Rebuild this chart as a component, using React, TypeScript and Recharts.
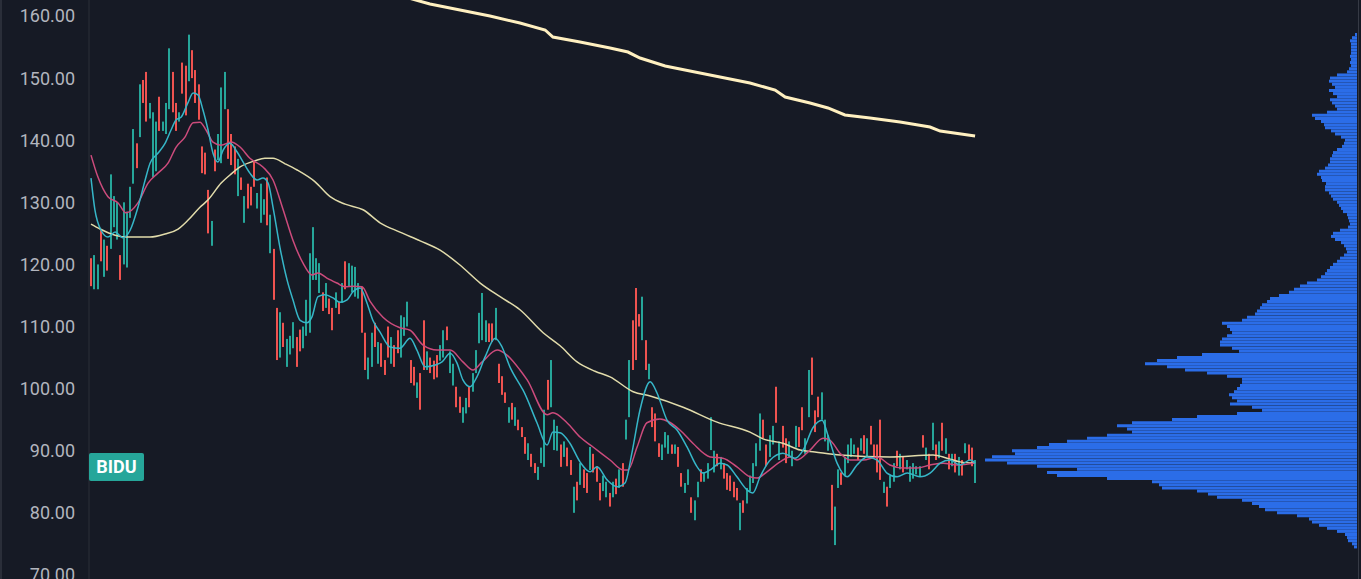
import { Bar, BarChart, ComposedChart, Line, XAxis, YAxis } from "recharts";

const BG = "#161a25";
const UP = "#26a69a";
const DOWN = "#ef5350";
const AXIS_TEXT = "#b2b5be";
const PRICE_DOMAIN = [69.34, 162.58];
const PRICE_TICKS = [70, 80, 90, 100, 110, 120, 130, 140, 150, 160];

// daily candles (high / low / direction)
const highs = [
  121, 121.5, 120, 125.5, 124, 123, 134.5, 131, 130, 121.5,
  130, 128.5, 132.5, 141.8, 139.5, 149, 149.7, 151, 146, 144.5,
  143, 147, 143, 146, 154.8, 151, 146, 144.5, 152.5, 152,
  157, 154.5, 151.3, 149, 139, 138, 132, 127, 138.5, 141,
  148.5, 151, 145, 141, 139, 137, 134, 131, 133, 132.5,
  136.5, 131.5, 133, 130.5, 134, 128, 122.5, 113, 112.3, 110.6,
  108, 108.5, 110.7, 108.3, 109.5, 110, 114.3, 121.8, 126, 121,
  120.2, 115.5, 117, 114.5, 113, 115.5, 114, 117, 120.5, 120.2,
  119.8, 119.6, 117, 116.4, 109, 105, 109, 110.6, 107.5, 107.3,
  104.6, 110, 108.3, 107, 109.4, 111.8, 111.5, 114, 104.6, 103.5,
  101, 102.5, 111, 106, 105, 104.5, 105.4, 107, 109.4, 110,
  106, 104, 100.3, 98.7, 97, 98.5, 100.3, 102.5, 106.2, 112.2,
  115.4, 111, 110.5, 110.5, 113, 104, 102, 99.4, 97, 97.7,
  97, 95, 93.8, 92.2, 91.2, 89.5, 88, 87.4, 90.5, 96.6,
  101.4, 104.6, 95, 94, 91, 91.5, 90.5, 88.5, 84.2, 85,
  88, 87, 86.4, 90.6, 89.5, 87.5, 84.8, 86, 85, 83.2,
  85, 85.5, 87, 88, 95, 104.6, 111, 116.2, 112, 114.8,
  107.8, 104, 97, 96, 91.2, 91, 93, 92.5, 91, 91,
  90.6, 86.4, 84.8, 87, 82.5, 82, 85, 87, 86.5, 88,
  95.4, 90, 89.5, 89, 88, 86.4, 86, 85, 84, 81.6,
  82, 84, 86, 88, 91.2, 96, 95, 91, 92.5, 94,
  100.3, 91.5, 94, 92, 91.5, 90, 94, 93.8, 97, 92,
  103, 105, 96.5, 98.7, 99.4, 95, 92.5, 84.5, 81, 87,
  86.5, 89, 91, 92, 91, 90.5, 92, 92.5, 92, 94,
  91, 91, 95, 85, 84.2, 86, 88, 90, 89.5, 89,
  88.5, 87.5, 88, 87.5, 87.5, 92.5, 90.5, 89.5, 94.5, 91,
  91.5, 94.5, 92, 89.5, 89.5, 89.5, 89, 88.5, 91.2, 91,
  90.5, 88.5,
];

const lows = [
  116.5, 116, 116, 120.5, 118, 119, 122.5, 126, 124, 117.5,
  120, 119.5, 127.5, 133, 135.5, 140.5, 146, 143, 143.5, 134,
  135, 141.5, 141.5, 141, 145, 144.5, 141.5, 143, 147.5, 144,
  149.5, 150, 146, 143.3, 134.7, 134.5, 125, 123, 135, 136.8,
  136.3, 145, 137, 136, 134.5, 131, 132, 126.7, 129, 129.5,
  132.5, 129, 126.7, 128, 126.3, 121.8, 114.3, 104.6, 105, 106.7,
  103.5, 105.5, 106.5, 103.5, 106, 106.5, 108.5, 109, 117.5, 117.5,
  115.4, 112.5, 113, 112, 109.4, 113, 112, 113.8, 116, 116.5,
  115.5, 114.8, 114.5, 109, 103, 101.5, 103.5, 106.7, 104, 103.5,
  102.2, 105, 104, 103.5, 105.7, 105, 108.5, 110, 100.9, 100.5,
  98.5, 96.6, 103, 103, 102.5, 101.5, 101.8, 104.5, 105, 107.8,
  102.5, 100.5, 97, 96.1, 94.5, 96, 97, 99.5, 102.5, 107.3,
  107.8, 107.5, 107.5, 107.5, 107.8, 100.9, 99, 97.7, 94.5, 95,
  94, 93.3, 92.2, 89.5, 88.5, 87.4, 86.4, 85.3, 88, 87.4,
  96.6, 97, 90.1, 90, 87.4, 89, 87.5, 86.1, 80, 82,
  84.5, 84, 83.2, 86.9, 86.5, 85, 82, 83.5, 82.5, 81,
  82.5, 83, 84, 84.2, 91.8, 95.4, 103, 104.6, 110, 107.8,
  103, 101.5, 93.8, 91.5, 89, 88.5, 90.5, 89.5, 89.5, 89.5,
  87.4, 84.2, 83.2, 84.5, 80, 78.8, 82.5, 85, 85, 85.5,
  90.1, 86.5, 87.5, 87, 85.5, 83.7, 83.5, 82.5, 82, 77.2,
  80, 81.5, 83.5, 84.8, 87.5, 90, 92, 87.5, 89, 91,
  94.5, 88.5, 90.5, 88, 89, 87.5, 90.5, 90.6, 93.3, 89.5,
  95.4, 99, 93, 95.4, 95, 91.5, 90, 77.2, 74.8, 84,
  84.5, 86, 88, 89, 89.5, 88.5, 90, 89.5, 89, 91,
  89, 86.5, 85.3, 83.2, 81, 84, 85, 87.5, 87, 86.5,
  87, 85, 85.5, 86.2, 85.8, 90.5, 88.5, 87, 90.1, 88.5,
  88.8, 90, 89.5, 87, 87.5, 86.5, 86, 86, 89.6, 88.5,
  87.5, 84.8,
];

// u = close above open, d = close below open, 10 candles per group
const directionGroups = [
  "duududuuud", "uuuududduu", "uduuuddudd", "uddddddudu", "uudddududd",
  "duuududdud", "uuudduuuuu", "ududdududu", "uuudduudud", "ddudduuudd",
  "udduddduud", "uudduuduuu", "uuddudddud", "udddudduuu", "duuududdud",
  "udduddduud", "ududuudddu", "duddduuudu", "dduuduuduu", "uududddddu",
  "duuuuudduu", "dudduuuddu", "uddduuuduu", "duuuududud", "ddduduudud",
  "uuuuududud", "ududududud", "du",
];
const directions = directionGroups.join("");

// moving averages: [candle index, price]
const slowMa = [
  [0, 126.5], [2.8, 125.7], [7.4, 124.7], [11.3, 124.4], [18.1, 124.4], [22.7, 124.9],
  [26.7, 125.7], [29.7, 127.1], [33.4, 129.2], [35.9, 130.4], [39.9, 133.1], [42.6, 134.4],
  [45.7, 135.7], [50.3, 136.7], [53.3, 137.1], [55.8, 137.1], [59.5, 136.2], [63.2, 135.2],
  [68.7, 133.3], [73.3, 130.9], [77.9, 129.7], [83.4, 128.8], [88.6, 126.7], [94.7, 125.2],
  [100.9, 123.8], [107, 122.3], [113.1, 119.9], [119.3, 117], [125.4, 114.8], [131.5, 112.7],
  [138.6, 109], [143.8, 106.9], [149, 104.3], [154.5, 102.8], [159.1, 101.9], [166.2, 99.5],
  [171.4, 98.8], [181.5, 97], [191.9, 94.6], [202, 93], [206, 91.9], [212.1, 91.2],
  [217.4, 90.1], [221.9, 89.8], [229.6, 89.3], [244.9, 89], [258.1, 89.3], [262.4, 88.8],
  [266.4, 88.2], [271, 88],
];

const midMa = [
  [0, 137.6], [2.1, 134.1], [5.2, 130.9], [8.3, 129.9], [10.7, 128.3], [14.4, 129.9],
  [17.5, 133.1], [20.5, 134.7], [23.6, 136.3], [26.1, 138.9], [28.8, 140.5], [31.3, 142.8],
  [33.4, 142.9], [35.3, 141.6], [37.4, 139.7], [39.9, 139.2], [42.9, 139.7], [45.7, 138.9],
  [48.7, 137.1], [52.7, 135.7], [55.8, 133.6], [58.9, 128.8], [61.9, 123.9], [65, 120.2],
  [67.7, 118.3], [69.6, 118.6], [72.3, 117.8], [75.4, 117], [77.9, 116.4], [80.3, 116.5],
  [83.1, 116.4], [85.5, 114.1], [89.5, 111.5], [94.7, 109.8], [97.8, 109.4], [101.8, 107],
  [106.1, 106.2], [110.1, 106.2], [114, 104.3], [117.1, 103], [119.9, 104.3], [124.5, 106.2],
  [127.5, 105.4], [131.5, 103], [133.7, 101.4], [139.8, 95.8], [141.6, 96.1], [145.9, 94.5],
  [149.9, 92.2], [153.9, 90.6], [159.1, 88.5], [163.1, 86.9], [164.6, 86.9], [167.4, 90.6],
  [170.4, 94.5], [174.4, 95.1], [180.6, 93.3], [184.5, 91.2], [189.8, 89], [193.7, 88.8],
  [198, 87.4], [202, 85.8], [204.2, 85.6], [207.2, 86.6], [211.2, 88.2], [214.3, 89],
  [216.4, 88.5], [220.4, 90.1], [224.4, 92], [226.5, 91.7], [229.6, 89.6], [232.7, 88.5],
  [236.7, 88.5], [241, 89], [244.9, 87.7], [248.9, 87.2], [253.2, 87.2], [257.2, 87.7],
  [261.2, 88], [265.5, 87.7], [271, 88],
];

const fastMa = [
  [0, 133.9], [1.2, 128.8], [3.1, 125.5], [5.2, 124.4], [7.4, 125.2], [9.8, 124.3],
  [12, 125.5], [14.4, 129.2], [16.6, 133.6], [18.1, 136.3], [20.5, 137.9], [22.7, 139.5],
  [24.5, 141.6], [26.1, 143.3], [27.6, 143.7], [29.7, 146], [31.3, 147.6], [32.8, 147.3],
  [34.3, 144.9], [35.9, 141.6], [37.4, 137.9], [38.9, 136.5], [40.5, 138.4], [42.6, 139.5],
  [44.8, 138.1], [46.6, 136.5], [48.7, 134.7], [50.9, 133.6], [52.7, 133.9], [54.3, 133.1],
  [55.8, 129.2], [57.9, 122.8], [60.1, 117.5], [61.9, 114.3], [64.1, 111], [66.2, 110.6],
  [67.7, 111.5], [69.6, 114.8], [71.7, 115.1], [74.2, 114.6], [76.3, 113.9], [78.5, 114.3],
  [80.3, 115.6], [82.5, 116.2], [84.6, 113.8], [86.4, 111], [88.6, 109.1], [91.7, 106.7],
  [94.7, 106.5], [97.8, 108.1], [99.9, 106.2], [102.4, 103.5], [105.5, 103.8], [107.6, 104.3],
  [110.1, 105.7], [112.2, 104.1], [114, 101.4], [116.2, 100.3], [118.3, 101.9], [120.8, 105.1],
  [123.9, 108.1], [126, 106.7], [128.4, 103.5], [131.5, 100.6], [132.4, 99.8], [136.7, 94.5],
  [139.8, 90.9], [141.6, 93], [143.8, 92.9], [146.8, 91.2], [149.9, 88.2], [153, 86.6],
  [155.1, 87.4], [158.2, 85.3], [161.3, 84.2], [163.7, 84.8], [165.8, 89.6], [168.3, 96.6],
  [171.4, 101.1], [173.5, 99.3], [176.6, 94.9], [179.7, 93.3], [182.7, 90.6], [185.8, 87.4],
  [187.6, 86.4], [189.8, 86.9], [192.8, 88], [195, 87.7], [198, 85.8], [201.1, 83.7],
  [202.9, 83.2], [205.1, 85.8], [208.2, 88.5], [212.1, 89.6], [215.8, 88.8], [218.3, 90.1],
  [221.3, 93.7], [224.1, 94.9], [225.9, 92.5], [228.7, 88], [231.8, 85.8], [234.8, 87.7],
  [237.9, 89], [241, 88.5], [244, 86.4], [247.1, 85.8], [250.2, 86.4], [254.1, 85.8],
  [257.2, 86.4], [260.3, 88], [263.3, 88.5], [266.4, 87.7], [269.5, 88.5], [271, 88],
];

const longMa = [
  [96.3, 163.06], [103.9, 161.93], [113.1, 160.97], [122.3, 160], [131.5, 158.87],
  [139.2, 157.75], [141.6, 156.62], [149.9, 155.81], [159.1, 154.85], [164.6, 154.2],
  [168.3, 153.24], [176, 151.95], [183.6, 151.14], [192.8, 150.18], [202, 149.21],
  [209.7, 148.08], [212.8, 146.96], [220.4, 145.99], [225.9, 145.19], [231.1, 144.06],
  [238.8, 143.57], [248, 142.93], [257.2, 142.13], [260.3, 141.48], [271, 140.68],
];

// volume profile: price level -> relative volume
const profileLevels = [
  157, 156.5, 156, 155.5, 155, 154.5, 154, 153.5, 153, 152.5, 152, 151.5, 151, 150.5, 150,
  149.5, 149, 148.5, 148, 147.5, 147, 146.5, 146, 145.5, 145, 144.5, 144, 143.5, 143, 142.5,
  142, 141.5, 141, 140.5, 140, 139.5, 139, 138.5, 138, 137.5, 137, 136.5, 136, 135.5, 135,
  134.5, 134, 133.5, 133, 132.5, 132, 131.5, 131, 130.5, 130, 129.5, 129, 128.5, 128, 127.5,
  127, 126.5, 126, 125.5, 125, 124.5, 124, 123.5, 123, 122.5, 122, 121.5, 121, 120.5, 120,
  119.5, 119, 118.5, 118, 117.5, 117, 116.5, 116, 115.5, 115, 114.5, 114, 113.5, 113, 112.5,
  112, 111.5, 111, 110.5, 110, 109.5, 109, 108.5, 108, 107.5, 107, 106.5, 106, 105.5, 105,
  104.5, 104, 103.5, 103, 102.5, 102, 101.5, 101, 100.5, 100, 99.5, 99, 98.5, 98, 97.5,
  97, 96.5, 96, 95.5, 95, 94.5, 94, 93.5, 93, 92.5, 92, 91.5, 91, 90.5, 90,
  89.5, 89, 88.5, 88, 87.5, 87, 86.5, 86, 85.5, 85, 84.5, 84, 83.5, 83, 82.5,
  82, 81.5, 81, 80.5, 80, 79.5, 79, 78.5, 78, 77.5, 77, 76.5, 76, 75.5, 75, 74.5,
];
const profileVolumes = [
  2, 5, 7, 6, 6, 6, 6, 7, 6, 7, 6, 8, 10, 20, 27,
  28, 25, 22, 28, 24, 20, 27, 25, 22, 20, 30, 45, 42, 36, 33,
  32, 26, 22, 16, 12, 13, 15, 20, 24, 25, 27, 27, 29, 32, 38,
  40, 36, 35, 31, 32, 32, 28, 26, 24, 20, 18, 16, 14, 10, 9,
  8, 7, 9, 17, 24, 26, 22, 16, 13, 11, 10, 13, 17, 20, 24,
  27, 30, 32, 36, 40, 50, 57, 63, 68, 78, 87, 90, 95, 97, 100,
  102, 110, 115, 135, 130, 127, 125, 130, 135, 137, 137, 125, 118, 155, 180,
  200, 212, 190, 172, 150, 130, 115, 115, 117, 120, 123, 128, 125, 120, 127,
  105, 95, 120, 160, 185, 225, 240, 230, 225, 250, 270, 290, 308, 320, 345,
  342, 365, 372, 350, 320, 280, 310, 300, 250, 205, 198, 195, 160, 149, 140,
  115, 105, 98, 92, 80, 60, 48, 45, 38, 30, 20, 12, 10, 9, 5, 3,
];

const candles = highs.map((h, i) => ({ i, range: [lows[i], h], up: directions[i] === "u" }));
const toPts = (arr: number[][]) => arr.map(([i, v]) => ({ i, v }));
const profile = profileLevels.map((p, k) => ({ p, v: profileVolumes[k] }));

function Wick(props: any) {
  const { x, y, width, height, payload } = props;
  if (x == null || y == null) return null;
  const top = Math.min(y, y + height);
  const h = Math.max(1, Math.abs(height));
  const cx = Math.round(x + width / 2 - 1);
  return <rect x={cx} y={top} width={2} height={h} fill={payload.up ? UP : DOWN} />;
}

const maLine = (data: number[][], color: string, w: number, type: any = "monotone") => (
  <Line
    data={toPts(data)}
    dataKey="v"
    stroke={color}
    strokeWidth={w}
    dot={false}
    activeDot={false}
    type={type}
    isAnimationActive={false}
  />
);

export default function App() {
  return (
    <div
      style={{
        position: "fixed",
        left: 0,
        top: 0,
        width: 1361,
        height: 579,
        background: BG,
        overflow: "hidden",
        fontFamily: "Roboto, sans-serif",
      }}
    >
      <ComposedChart
        width={1361}
        height={579}
        data={candles}
        margin={{ top: 0, right: 0, bottom: 0, left: 0 }}
      >
        <XAxis type="number" dataKey="i" domain={[-0.613, 389.3]} hide allowDataOverflow />
        <YAxis
          type="number"
          domain={PRICE_DOMAIN}
          ticks={PRICE_TICKS}
          interval={0}
          width={89}
          allowDataOverflow
          tickFormatter={(v: number) => v.toFixed(2)}
          tick={{ fill: AXIS_TEXT, fontSize: 18 }}
          tickLine={false}
          tickMargin={8}
          axisLine={{ stroke: "#2a2e39" }}
        />
        <Bar dataKey="range" barSize={2} shape={<Wick />} isAnimationActive={false} />
        {maLine(slowMa, "#e2dcab", 1.5)}
        {maLine(midMa, "#cc4b7c", 1.5)}
        {maLine(fastMa, "#36b6c8", 1.5)}
        {maLine(longMa, "#fff0c0", 3, "linear")}
      </ComposedChart>

      <div style={{ position: "absolute", left: 979, top: 0 }}>
        <BarChart
          layout="vertical"
          width={378}
          height={579}
          data={profile}
          margin={{ top: 0, right: 0, bottom: 0, left: 0 }}
        >
          <XAxis type="number" domain={[0, 378]} reversed hide />
          <YAxis type="number" dataKey="p" domain={PRICE_DOMAIN} reversed hide allowDataOverflow />
          <Bar dataKey="v" fill="#2b6de8" barSize={3} isAnimationActive={false} />
        </BarChart>
      </div>

      <div
        style={{
          position: "absolute",
          left: 89,
          top: 453,
          width: 55,
          height: 28,
          background: UP,
          borderRadius: 2,
          color: "#ffffff",
          fontWeight: 700,
          fontSize: 18,
          lineHeight: "28px",
          textAlign: "center",
        }}
      >
        BIDU
      </div>
      <div style={{ position: "absolute", left: 0, top: 0, width: 2, height: 579, background: "#2a2e39" }} />
      <div style={{ position: "absolute", left: 1358, top: 0, width: 1, height: 579, background: "#363a45" }} />
    </div>
  );
}
